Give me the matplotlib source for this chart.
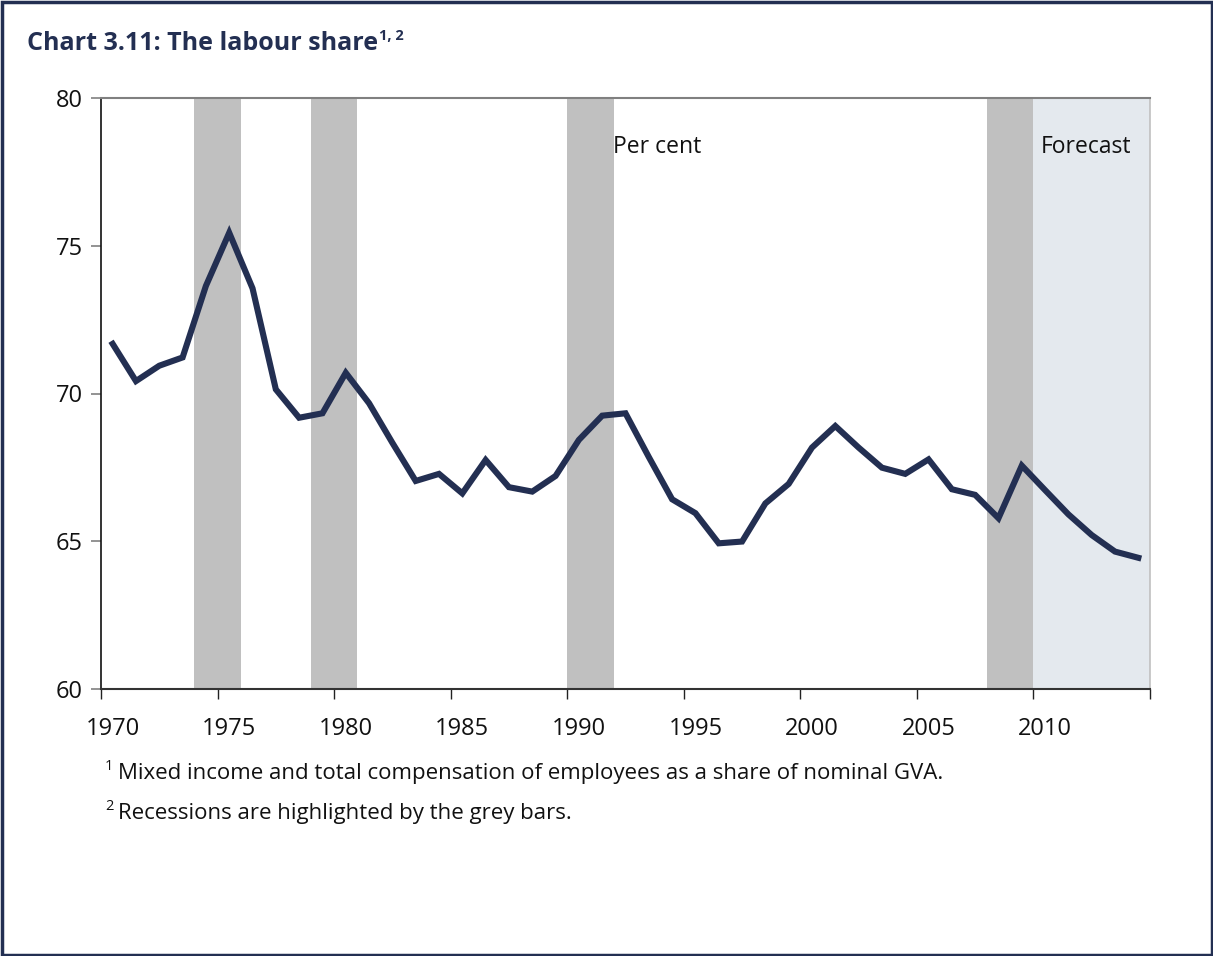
import matplotlib
matplotlib.use("Agg")
import matplotlib.pyplot as plt
from matplotlib.patches import Rectangle

plt.rcParams['font.family'] = ['Open Sans', 'DejaVu Sans']

years = list(range(1970, 2015))
labour_share = [71.68, 70.42, 70.94, 71.22, 73.64, 75.44, 73.56, 70.14, 69.18, 69.33,
                70.70, 69.67, 68.33, 67.04, 67.28, 66.62, 67.75, 66.83, 66.68, 67.21,
                68.43, 69.25, 69.33, 67.85, 66.42, 65.95, 64.93, 64.99, 66.28, 66.94,
                68.17, 68.90, 68.17, 67.49, 67.28, 67.77, 66.76, 66.57, 65.78, 67.56,
                66.73, 65.91, 65.21, 64.65, 64.44]
recessions = [(1974, 1975), (1979, 1980), (1990, 1991), (2008, 2009)]
forecast_start = 2010
x_labels = [1970, 1975, 1980, 1985, 1990, 1995, 2000, 2005, 2010]
y_ticks = [60, 65, 70, 75, 80]

NAVY = '#232F52'
W, H = 1213, 956
fig = plt.figure(figsize=(W / 100, H / 100), dpi=100)
ax = fig.add_axes([101 / W, 1 - 689 / H, (1150 - 101) / W, (689 - 98) / H])

for a, b in recessions:
    ax.axvspan(a - 0.5, b + 0.5, color='#C0C0C0', lw=0, zorder=1)
ax.axvspan(forecast_start - 0.5, years[-1] + 0.5, color='#E4E9EE', lw=0, zorder=0.5)

ax.plot(years, labour_share, color=NAVY, lw=4.4, solid_joinstyle='miter', zorder=3)

ax.set_xlim(years[0] - 0.5, years[-1] + 0.5)
ax.set_ylim(60, 80)
ax.set_yticks(y_ticks)
ax.set_yticklabels([str(v) for v in y_ticks])
major = [years[0] - 0.5 + 5 * i for i in range(10)]
ax.set_xticks(major)
ax.set_xticklabels([''] * len(major))
ax.set_xticks(x_labels, minor=True)
ax.set_xticklabels([str(v) for v in x_labels], minor=True)
ax.tick_params(axis='x', which='major', direction='out', length=7, width=1, color='#222222')
ax.tick_params(axis='x', which='minor', length=0, pad=20, labelsize=17, labelcolor='#111111')
ax.tick_params(axis='y', direction='out', length=7, width=1.2, color='#808080', pad=6,
               labelsize=17, labelcolor='#111111')

ax.spines['left'].set_color('#111111')
ax.spines['left'].set_linewidth(1.2)
ax.spines['bottom'].set_color('#333333')
ax.spines['bottom'].set_linewidth(1.5)
ax.spines['top'].set_color('#808080')
ax.spines['top'].set_linewidth(1.5)
ax.spines['right'].set_color('#C0C0C0')
ax.spines['right'].set_linewidth(1.2)

ax.text(1991.45, 78.34, 'Per cent', fontsize=16.5, color='#111111', va='center', ha='left')
ax.text(2013.7, 78.34, 'Forecast', fontsize=16.5, color='#111111', va='center', ha='right')

# Title
t = fig.text(27 / W, 1 - 43 / H, 'Chart 3.11: The labour share', fontsize=18,
             fontweight='bold', color=NAVY, va='center', ha='left')
fig.canvas.draw()
r = fig.canvas.get_renderer()
bb = t.get_window_extent(r)
fig.text(bb.x1 / W + 0.001, 1 - 36 / H, '1, 2', fontsize=10.5, fontweight='bold',
         color=NAVY, va='center', ha='left')

# Footnotes
notes = ['Mixed income and total compensation of employees as a share of nominal GVA.',
         'Recessions are highlighted by the grey bars.']
for i, n in enumerate(notes):
    y = 1 - (773 + 40 * i) / H
    fig.text(105 / W, y + 7 / H, str(i + 1), fontsize=10.5, color='#111111', va='center', ha='left')
    fig.text(118 / W, y, n, fontsize=16, color='#111111', va='center', ha='left')

# Frame
fig.patches.append(Rectangle((1.5 / W, 1.5 / H), 1 - 3 / W, 1 - 3 / H, transform=fig.transFigure,
                             fill=False, edgecolor=NAVY, lw=2.5))

fig.savefig('out.png', dpi=100)
